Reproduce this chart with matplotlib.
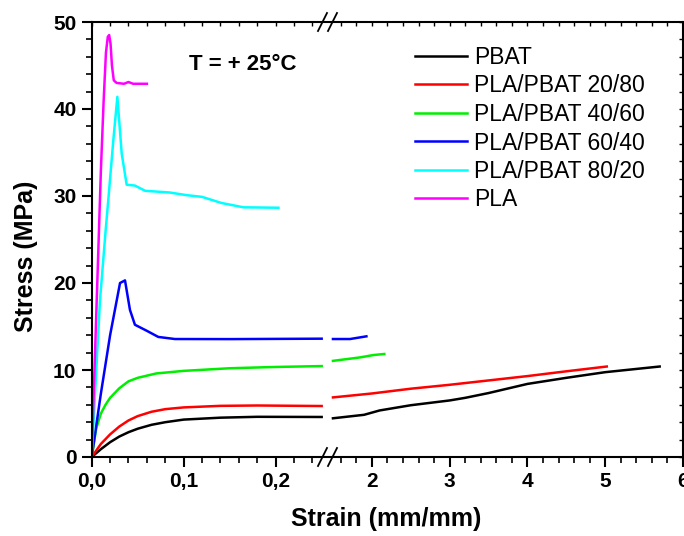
import numpy as np
import matplotlib
matplotlib.use("Agg")
import matplotlib.pyplot as plt
from matplotlib.ticker import FixedLocator, FixedFormatter, MultipleLocator

plt.rcParams['font.family'] = ['Liberation Sans', 'DejaVu Sans']

# --- Дані (ліва частина: 0..0.25, права частина: 1.5..6) ---
pbat_x1 = [0, 0.01, 0.02, 0.03, 0.04, 0.05, 0.065, 0.08, 0.10, 0.14, 0.18, 0.25]
pbat_y1 = [0, 0.9, 1.7, 2.35, 2.85, 3.25, 3.7, 4.0, 4.3, 4.52, 4.62, 4.6]
pbat_x2 = [1.5, 1.9, 2.1, 2.5, 3.0, 3.2, 3.5, 4.0, 4.5, 5.0, 5.7]
pbat_y2 = [4.45, 4.85, 5.35, 5.95, 6.5, 6.8, 7.35, 8.4, 9.1, 9.75, 10.4]

b2080_x1 = [0, 0.01, 0.02, 0.03, 0.04, 0.05, 0.065, 0.08, 0.10, 0.14, 0.18, 0.25]
b2080_y1 = [0, 1.5, 2.6, 3.5, 4.2, 4.7, 5.2, 5.5, 5.7, 5.88, 5.92, 5.86]
b2080_x2 = [1.5, 2.0, 2.5, 3.0, 3.5, 4.0, 4.5, 5.02]
b2080_y2 = [6.85, 7.3, 7.85, 8.3, 8.8, 9.3, 9.85, 10.4]

b4060_x1 = [0, 0.005, 0.01, 0.015, 0.02, 0.03, 0.04, 0.05, 0.07, 0.10, 0.15, 0.20, 0.25]
b4060_y1 = [0, 3.3, 5.0, 6.0, 6.8, 7.9, 8.7, 9.1, 9.6, 9.9, 10.2, 10.35, 10.45]
b4060_x2 = [1.5, 1.85, 2.02, 2.16]
b4060_y2 = [11.05, 11.45, 11.72, 11.84]

b6040_x1 = [0, 0.01, 0.02, 0.0308, 0.0362, 0.0416, 0.047, 0.06, 0.0724, 0.0905, 0.15, 0.25]
b6040_y1 = [0, 7.3, 14.0, 20.0, 20.3, 16.9, 15.2, 14.5, 13.8, 13.56, 13.55, 13.6]
b6040_x2 = [1.5, 1.72, 1.93]
b6040_y2 = [13.56, 13.56, 13.87]

b8020_x1 = [0, 0.009, 0.0152, 0.018, 0.0235, 0.0279, 0.0326, 0.038, 0.047, 0.058,
            0.085, 0.103, 0.12, 0.141, 0.165, 0.203]
b8020_y1 = [0, 18.0, 26.1, 29.5, 36.4, 41.4, 34.9, 31.3, 31.2, 30.6,
            30.4, 30.1, 29.9, 29.2, 28.7, 28.65]

pla_x1 = [0, 0.005, 0.010, 0.013, 0.0155, 0.0175, 0.019, 0.0205, 0.022, 0.024,
          0.027, 0.035, 0.040, 0.045, 0.060]
pla_y1 = [0, 16.5, 33.0, 41.0, 46.5, 48.3, 48.5, 47.5, 45.0, 43.3,
          43.0, 42.9, 43.1, 42.9, 42.9]

labels = ["PBAT", "PLA/PBAT 20/80", "PLA/PBAT 40/60", "PLA/PBAT 60/40", "PLA/PBAT 80/20", "PLA"]
colors = ["black", "red", "#00ee00", "blue", "cyan", "magenta"]

major_ticks = [0, 0.1, 0.2, 2, 3, 4, 5, 6]
major_labels = ["0,0", "0,1", "0,2", "2", "3", "4", "5", "6"]
minor_ticks = [0.02, 0.04, 0.06, 0.08, 0.12, 0.14, 0.16, 0.18, 0.22, 0.24] + \
              [1.6, 1.8, 2.2, 2.4, 2.6, 2.8, 3.2, 3.4, 3.6, 3.8, 4.2, 4.4, 4.6, 4.8,
               5.2, 5.4, 5.6, 5.8]


# Розрив осі x: 0..0.25 та 1.5..6
def fwd(x):
    x = np.asarray(x, dtype=float)
    return np.where(x <= 0.25, x * 920,
                    np.where(x >= 1.5, 241.3 + (x - 1.5) * 77.8,
                             230 + (x - 0.25) * (11.3 / 1.25)))


def inv(u):
    u = np.asarray(u, dtype=float)
    return np.where(u <= 230, u / 920,
                    np.where(u >= 241.3, 1.5 + (u - 241.3) / 77.8,
                             0.25 + (u - 230) * (1.25 / 11.3)))


fig = plt.figure(figsize=(6.84, 5.36), dpi=100)
ax = fig.add_axes([91.7 / 684, 79 / 536, 591.3 / 684, 435 / 536])
ax.set_xscale('function', functions=(fwd, inv))

lw = 1.8
series = [
    (pbat_x1, pbat_y1, pbat_x2, pbat_y2),
    (b2080_x1, b2080_y1, b2080_x2, b2080_y2),
    (b4060_x1, b4060_y1, b4060_x2, b4060_y2),
    (b6040_x1, b6040_y1, b6040_x2, b6040_y2),
    (b8020_x1, b8020_y1, None, None),
    (pla_x1, pla_y1, None, None),
]
for (x1, y1, x2, y2), lab, c in zip(series, labels, colors):
    ax.plot(x1, y1, color=c, lw=lw, label=lab)
    if x2 is not None:
        ax.plot(x2, y2, color=c, lw=lw)

ax.set_xlim(0, 6)
ax.set_ylim(0, 50)
ax.xaxis.set_major_locator(FixedLocator(major_ticks))
ax.xaxis.set_major_formatter(FixedFormatter(major_labels))
ax.xaxis.set_minor_locator(FixedLocator(minor_ticks))
ax.yaxis.set_major_locator(MultipleLocator(10))
ax.yaxis.set_minor_locator(MultipleLocator(2))

for s in ax.spines.values():
    s.set_linewidth(1.5)
ax.tick_params(which='major', direction='out', length=7, width=1.5, pad=4,
               labelsize=15)
ax.tick_params(which='minor', direction='out', length=4, width=1.2)
for t in ax.get_xticklabels() + ax.get_yticklabels():
    t.set_fontweight('bold')

# Верхня та права осі з внутрішніми рисками
axt = ax.twiny()
axt.set_xscale('function', functions=(fwd, inv))
axt.set_xlim(0, 6)
axt.xaxis.set_major_locator(FixedLocator(major_ticks))
axt.xaxis.set_minor_locator(FixedLocator(minor_ticks))
axt.tick_params(which='both', direction='in', length=3, width=1.0, labeltop=False)
axr = ax.twinx()
axr.set_ylim(0, 50)
axr.yaxis.set_major_locator(MultipleLocator(10))
axr.yaxis.set_minor_locator(MultipleLocator(2))
axr.tick_params(which='both', direction='in', length=3, width=1.0, labelright=False)
for a in (axt, axr):
    for s in a.spines.values():
        s.set_visible(False)

# Знак розриву //
bx = (327.5 - 91.7) / 591.3
dx = 4.5 / 591.3
dy = 9 / 435
for yy in (0, 1):
    for off in (-5 / 591.3, 5 / 591.3):
        ax.plot([bx + off - dx, bx + off + dx], [yy - dy, yy + dy],
                transform=ax.transAxes, color='black', lw=1.3, clip_on=False)

ax.set_xlabel("Strain (mm/mm)", fontsize=18, fontweight='bold')
ax.set_ylabel("Stress (MPa)", fontsize=18, fontweight='bold')
ax.xaxis.set_label_coords((386.5 - 91.7) / 591.3, -(507 - 457) / 435)
ax.yaxis.set_label_coords(-(91.7 - 38) / 591.3, (457 - 256.5) / 435)

fig.text(243 / 684, 1 - 64 / 536, "T = + 25°C", fontsize=16, fontweight='bold',
         ha='center', va='center')

ax.legend(loc='upper left', bbox_to_anchor=(415 / 684, 1 - 46 / 536),
          bbox_transform=fig.transFigure, frameon=False, fontsize=16.5,
          handlelength=2.27, handletextpad=0.3, labelspacing=0.24,
          borderpad=0, borderaxespad=0)

fig.savefig("out.png", dpi=100)
